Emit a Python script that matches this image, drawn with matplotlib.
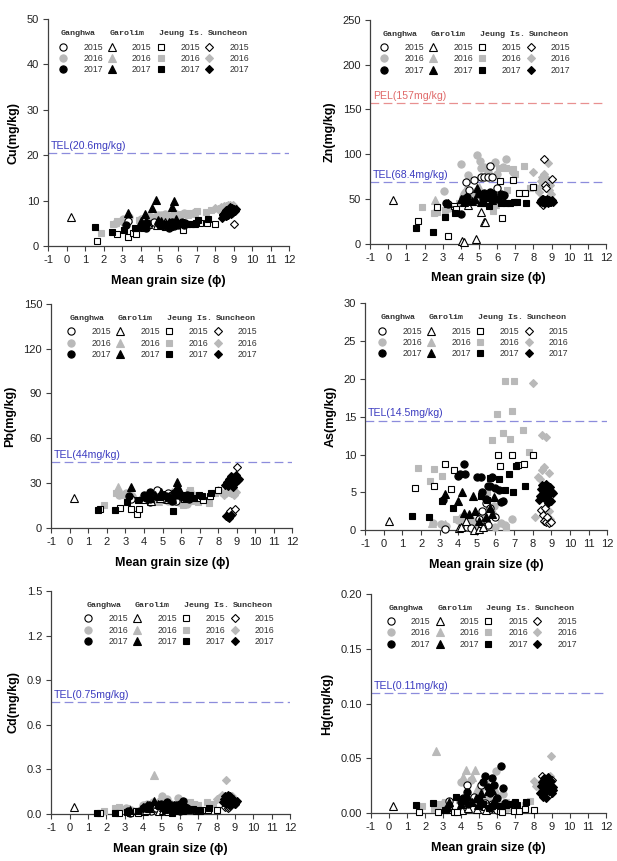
import numpy as np
import matplotlib.pyplot as plt
import matplotlib.transforms as mtransforms
from matplotlib.lines import Line2D

plt.rcParams['font.family'] = ['Liberation Sans', 'DejaVu Sans']
plt.rcParams['axes.unicode_minus'] = False

# ---- data: mean grain size (phi) and metal contents per site / year ----
gh15_phi = [3.3, 4.3, 4.45, 4.7, 5.1, 5.3, 5.5, 5.6, 5.7, 6.0]
gh15_cu = [5.6, 4.6, 5.0, 5.3, 4.8, 5.0, 4.4, 4.9, 5.2, 4.6]
gh15_zn = [44, 69, 60, 71, 74, 75, 75, 87, 75, 62]
gh15_pb = [19, 17, 21, 25, 19, 23, 22, 20, 18, 21]
gh15_as = [0.2, 0.4, 0.4, 0.3, 1.5, 2.6, 3.6, 0.7, 3.0, 1.8]
gh15_cd = [0.01, 0.03, 0.02, 0.04, 0.03, 0.05, 0.02, 0.04, 0.03, 0.02]
gh15_hg = [0.011, 0.026, 0.012, 0.015, 0.026, 0.009, 0.006, 0.004, 0.008, 0.003]

gh16_phi = [2.65, 3.05, 3.35, 4.0, 4.2, 4.4, 4.55, 4.9, 5.05, 5.1, 5.3, 5.5, 5.9, 6.0, 6.3, 6.5, 6.9]
gh16_cu = [5.2, 5.9, 6.4, 6.0, 6.3, 6.6, 6.5, 6.9, 6.2, 6.8, 7.0, 6.6, 7.1, 6.9, 7.3, 7.2, 7.6]
gh16_zn = [35, 59, 40, 89, 55, 77, 57, 99, 92, 84, 86, 80, 91, 78, 86, 94, 80]
gh16_pb = [22, 23, 21, 20, 22, 18, 21, 19, 22, 20, 18, 23, 17, 22, 16, 24, 19]
gh16_as = [1.0, 0.9, 0.6, 1.4, 1.8, 0.8, 1.2, 0.6, 1.0, 0.4, 1.6, 1.2, 3.2, 0.5, 1.0, 0.7, 1.5]
gh16_cd = [0.03, 0.04, 0.03, 0.06, 0.07, 0.05, 0.08, 0.09, 0.12, 0.08, 0.10, 0.07, 0.11, 0.06, 0.08, 0.07, 0.06]
gh16_hg = [0.005, 0.009, 0.006, 0.028, 0.012, 0.008, 0.030, 0.018, 0.022, 0.011, 0.028, 0.015, 0.038, 0.010, 0.017, 0.005, 0.008]

gh17_phi = [3.2, 4.0, 4.1, 4.3, 4.35, 5.0, 5.2, 5.3, 5.5, 5.6, 5.7, 5.8, 6.0, 6.2, 6.3, 6.4]
gh17_cu = [4.6, 4.2, 4.9, 4.1, 5.2, 4.8, 4.4, 5.0, 4.1, 4.7, 5.3, 4.5, 4.9, 5.4, 4.6, 5.1]
gh17_zn = [45, 33, 50, 48, 52, 55, 50, 57, 53, 58, 52, 56, 50, 55, 53, 54]
gh17_pb = [21, 22, 20, 19, 24, 22, 21, 20, 18, 23, 22, 25, 21, 20, 22, 19]
gh17_as = [4.0, 7.2, 7.4, 8.7, 7.4, 7.0, 7.1, 5.1, 4.2, 5.8, 5.9, 7.1, 5.6, 5.3, 3.8, 3.9]
gh17_cd = [0.02, 0.04, 0.05, 0.06, 0.04, 0.07, 0.05, 0.08, 0.06, 0.03, 0.05, 0.06, 0.07, 0.09, 0.05, 0.04]
gh17_hg = [0.004, 0.010, 0.014, 0.019, 0.008, 0.012, 0.028, 0.034, 0.024, 0.018, 0.032, 0.026, 0.014, 0.043, 0.023, 0.009]

gr15_phi = [0.25, 4.05, 4.15, 4.4, 4.85, 5.1, 5.3, 5.35]
gr15_cu = [6.4, 4.5, 4.3, 5.0, 4.6, 4.8, 5.4, 4.5]
gr15_zn = [49, 3, 2, 43, 5, 35, 24, 24]
gr15_pb = [20, 19, 21, 18, 20, 22, 19, 21]
gr15_as = [1.3, 0.3, 0.5, 1.2, 0.1, 0.2, 1.0, 0.5]
gr15_cd = [0.045, 0.02, 0.03, 0.04, 0.02, 0.03, 0.04, 0.02]
gr15_hg = [0.006, 0.003, 0.008, 0.005, 0.004, 0.010, 0.006, 0.003]

gr16_phi = [2.6, 3.3, 4.1, 4.25, 4.6, 4.75, 4.85, 5.0, 5.5, 5.9]
gr16_cu = [5.4, 6.2, 6.0, 6.4, 6.3, 6.7, 6.5, 6.6, 6.2, 7.0]
gr16_zn = [49, 43, 57, 60, 52, 58, 48, 63, 47, 44]
gr16_pb = [27.5, 22, 20, 21, 23, 18, 19, 22, 24, 20]
gr16_as = [1.0, 0.8, 1.5, 1.3, 0.8, 1.6, 1.1, 0.6, 1.7, 2.3]
gr16_cd = [0.04, 0.03, 0.06, 0.05, 0.26, 0.07, 0.06, 0.08, 0.07, 0.05]
gr16_hg = [0.057, 0.006, 0.033, 0.039, 0.033, 0.039, 0.022, 0.016, 0.012, 0.020]

gr17_phi = [3.3, 4.0, 4.2, 4.3, 4.6, 4.8, 4.9, 5.1, 5.5, 5.7, 5.8, 5.9]
gr17_cu = [7.4, 5.5, 7.0, 5.6, 8.5, 10.1, 5.7, 5.5, 5.3, 8.6, 9.9, 6.0]
gr17_zn = [45, 50, 47, 52, 48, 50, 62, 46, 52, 49, 55, 51]
gr17_pb = [27, 21, 23.5, 20, 22, 21, 24, 22, 19, 23, 30.5, 26]
gr17_as = [4.8, 3.9, 5.1, 2.3, 2.2, 4.5, 2.6, 1.2, 1.8, 3.0, 2.2, 4.4]
gr17_cd = [0.03, 0.05, 0.06, 0.04, 0.09, 0.07, 0.06, 0.05, 0.04, 0.06, 0.03, 0.05]
gr17_hg = [0.010, 0.008, 0.012, 0.016, 0.010, 0.014, 0.007, 0.018, 0.020, 0.021, 0.012, 0.008]

jg15_phi = [1.65, 2.7, 3.3, 3.6, 3.75, 6.15, 6.25, 6.9, 7.2, 7.55, 8.0]
jg15_cu = [1.2, 2.8, 2.1, 3.0, 2.6, 4.6, 3.6, 4.9, 5.1, 5.1, 5.0]
jg15_zn = [25, 41, 8.5, 42, 39, 70, 29, 71, 57, 57, 63]
jg15_pb = [12.5, 13.5, 12.5, 9, 12.5, 19, 22, 20, 18.5, 21, 25]
jg15_as = [5.6, 5.8, 8.7, 5.4, 8.0, 10.0, 8.5, 10.0, 8.6, 8.7, 9.9]
jg15_cd = [0.005, 0.01, 0.01, 0.02, 0.01, 0.02, 0.03, 0.02, 0.03, 0.03, 0.025]
jg15_hg = [0.001, 0.001, 0.003, 0.0005, 0.0005, 0.002, 0.001, 0.002, 0.002, 0.004, 0.003]

jg16_phi = [1.85, 2.5, 2.7, 3.1, 3.9, 5.55, 5.8, 6.1, 6.4, 6.5, 6.55, 6.8, 6.9, 7.0, 7.5, 7.8]
jg16_cu = [3.0, 5.0, 5.6, 5.3, 5.8, 6.4, 7.0, 7.2, 7.0, 7.4, 6.8, 7.3, 7.0, 7.8, 7.6, 8.0]
jg16_zn = [41, 34, 35, 38, 45, 74, 36, 85, 55, 84, 60, 82, 83, 78, 87, 62]
jg16_pb = [15.5, 23, 22, 22, 19, 17, 21, 15.5, 24, 25, 18, 22, 17, 20, 16.5, 23]
jg16_as = [8.2, 6.5, 8.1, 7.2, 1.5, 5.1, 11.9, 15.4, 12.8, 19.7, 0.4, 12.0, 15.8, 19.7, 13.2, 10.4]
jg16_cd = [0.02, 0.04, 0.05, 0.04, 0.03, 0.06, 0.05, 0.07, 0.06, 0.05, 0.08, 0.07, 0.05, 0.06, 0.08, 0.07]
jg16_hg = [0.006, 0.004, 0.008, 0.010, 0.012, 0.005, 0.006, 0.008, 0.004, 0.010, 0.007, 0.005, 0.009, 0.006, 0.007, 0.011]

jg17_phi = [1.5, 2.45, 3.1, 3.7, 5.2, 5.55, 5.7, 6.2, 6.5, 6.7, 6.95, 7.1, 7.6]
jg17_cu = [4.3, 3.2, 3.5, 4.1, 4.6, 4.3, 5.0, 5.2, 4.8, 5.0, 5.2, 5.8, 6.1]
jg17_zn = [18, 13, 30, 34, 45, 42, 55, 45, 45, 45, 46, 46, 45]
jg17_pb = [12, 12, 17.5, 18.5, 21, 11.5, 22, 21, 22, 20, 22, 21, 23.5]
jg17_as = [1.9, 1.7, 3.9, 2.9, 4.6, 4.0, 6.9, 6.8, 5.3, 7.5, 5.1, 8.5, 5.9]
jg17_cd = [0.005, 0.01, 0.015, 0.02, 0.03, 0.005, 0.04, 0.03, 0.03, 0.035, 0.03, 0.02, 0.04]
jg17_hg = [0.007, 0.009, 0.003, 0.015, 0.008, 0.005, 0.006, 0.006, 0.007, 0.008, 0.010, 0.007, 0.010]

sc15_phi = [8.45, 8.55, 8.6, 8.65, 8.7, 8.75, 8.9, 9.0]
sc15_cu = [6.8, 7.2, 6.6, 7.5, 7.0, 7.8, 7.4, 4.8]
sc15_zn = [50, 43, 94, 65, 62, 47, 48, 72]
sc15_pb = [8, 7, 10, 11.5, 30, 9, 12.5, 41]
sc15_as = [2.7, 2.0, 1.3, 3.0, 1.1, 1.8, 1.0, 1.1]
sc15_cd = [0.05, 0.06, 0.04, 0.07, 0.05, 0.06, 0.08, 0.07]
sc15_hg = [0.034, 0.026, 0.022, 0.031, 0.020, 0.028, 0.017, 0.030]

sc16_phi = [8.0, 8.15, 8.3, 8.4, 8.5, 8.5, 8.6, 8.7, 8.8, 8.85, 8.9, 8.95]
sc16_cu = [8.5, 8.3, 8.7, 8.2, 8.9, 8.6, 8.8, 9.0, 9.1, 8.7, 8.9, 9.0]
sc16_zn = [80, 62, 58, 70, 75, 66, 78, 73, 90, 60, 65, 55]
sc16_pb = [25, 24, 22, 23, 25, 26, 24, 23, 25, 22, 24, 24]
sc16_as = [19.4, 1.8, 7.0, 6.8, 12.6, 8.0, 8.4, 12.3, 5.0, 7.6, 2.5, 1.5]
sc16_cd = [0.10, 0.11, 0.13, 0.09, 0.23, 0.12, 0.10, 0.11, 0.09, 0.12, 0.10, 0.08]
sc16_hg = [0.029, 0.025, 0.027, 0.022, 0.030, 0.024, 0.028, 0.026, 0.032, 0.031, 0.034, 0.052]

sc17_phi = [8.35, 8.4, 8.45, 8.5, 8.55, 8.6, 8.6, 8.65, 8.7, 8.7, 8.75, 8.8, 8.8, 8.85, 8.9, 8.9, 8.95, 9.0, 9.05, 9.1]
sc17_cu = [6.3, 6.8, 7.2, 7.0, 7.6, 6.6, 8.0, 7.3, 7.8, 6.9, 8.3, 7.5, 8.6, 7.2, 7.9, 8.4, 7.6, 8.1, 7.8, 8.2]
sc17_zn = [47, 49, 46, 48, 50, 45, 47, 49, 46, 48, 50, 47, 45, 49, 48, 46, 47, 49, 48, 47]
sc17_pb = [29, 8, 31, 7, 28, 33, 6.5, 30, 35, 8.5, 29, 32, 27.5, 34, 31, 30, 35.5, 33, 32, 33]
sc17_as = [4.0, 4.6, 5.5, 6.0, 5.2, 4.3, 5.8, 5.0, 6.1, 4.4, 5.6, 3.6, 5.9, 4.8, 5.3, 4.2, 5.7, 3.9, 5.0, 4.9]
sc17_cd = [0.08, 0.10, 0.12, 0.07, 0.11, 0.09, 0.13, 0.08, 0.10, 0.06, 0.12, 0.09, 0.11, 0.07, 0.10, 0.08, 0.09, 0.07, 0.08, 0.09]
sc17_hg = [0.018, 0.025, 0.028, 0.015, 0.030, 0.022, 0.032, 0.019, 0.027, 0.014, 0.031, 0.024, 0.033, 0.020, 0.026, 0.022, 0.029, 0.018, 0.024, 0.021]

sites = ["Ganghwa", "Garolim", "Jeung Is.", "Suncheon"]
years = ["2015", "2016", "2017"]
elements = ["Cu", "Zn", "Pb", "As", "Cd", "Hg"]
ymax = [50, 250, 150, 30, 1.5, 0.2]
ystep = [10, 50, 30, 5, 0.3, 0.05]
tel = [20.6, 68.4, 44, 14.5, 0.75, 0.11]
tel_text = ["TEL(20.6mg/kg)", "TEL(68.4mg/kg)", "TEL(44mg/kg)", "TEL(14.5mg/kg)",
            "TEL(0.75mg/kg)", "TEL(0.11mg/kg)"]
pel = [None, 157, None, None, None, None]
pel_text = [None, "PEL(157mg/kg)", None, None, None, None]

raw = {
    ("Ganghwa", "2015"): (gh15_phi, [gh15_cu, gh15_zn, gh15_pb, gh15_as, gh15_cd, gh15_hg]),
    ("Ganghwa", "2016"): (gh16_phi, [gh16_cu, gh16_zn, gh16_pb, gh16_as, gh16_cd, gh16_hg]),
    ("Ganghwa", "2017"): (gh17_phi, [gh17_cu, gh17_zn, gh17_pb, gh17_as, gh17_cd, gh17_hg]),
    ("Garolim", "2015"): (gr15_phi, [gr15_cu, gr15_zn, gr15_pb, gr15_as, gr15_cd, gr15_hg]),
    ("Garolim", "2016"): (gr16_phi, [gr16_cu, gr16_zn, gr16_pb, gr16_as, gr16_cd, gr16_hg]),
    ("Garolim", "2017"): (gr17_phi, [gr17_cu, gr17_zn, gr17_pb, gr17_as, gr17_cd, gr17_hg]),
    ("Jeung Is.", "2015"): (jg15_phi, [jg15_cu, jg15_zn, jg15_pb, jg15_as, jg15_cd, jg15_hg]),
    ("Jeung Is.", "2016"): (jg16_phi, [jg16_cu, jg16_zn, jg16_pb, jg16_as, jg16_cd, jg16_hg]),
    ("Jeung Is.", "2017"): (jg17_phi, [jg17_cu, jg17_zn, jg17_pb, jg17_as, jg17_cd, jg17_hg]),
    ("Suncheon", "2015"): (sc15_phi, [sc15_cu, sc15_zn, sc15_pb, sc15_as, sc15_cd, sc15_hg]),
    ("Suncheon", "2016"): (sc16_phi, [sc16_cu, sc16_zn, sc16_pb, sc16_as, sc16_cd, sc16_hg]),
    ("Suncheon", "2017"): (sc17_phi, [sc17_cu, sc17_zn, sc17_pb, sc17_as, sc17_cd, sc17_hg]),
}

# ---- styles ----
site_marker = {"Ganghwa": "o", "Garolim": "^", "Jeung Is.": "s", "Suncheon": "D"}
site_msize = {"Ganghwa": 5.2, "Garolim": 5.2, "Jeung Is.": 4.7, "Suncheon": 4.4}
gray = "#b9b9b9"
year_face = {"2015": "white", "2016": gray, "2017": "black"}
year_edge = {"2015": "black", "2016": gray, "2017": "black"}
axcol = "#404040"

boxes = [[0.078, 0.714, 0.391, 0.264], [0.600, 0.717, 0.382, 0.260],
         [0.083, 0.387, 0.391, 0.260], [0.592, 0.384, 0.392, 0.264],
         [0.083, 0.0546, 0.387, 0.259], [0.601, 0.0557, 0.381, 0.254]]
leg_x = [0.033, 0.030, 0.054, 0.041, 0.126, 0.055]
yfmt = ["%d", "%d", "%d", "%d", "%.1f", "%.2f"]

fig = plt.figure(figsize=(6.17, 8.61), dpi=100)
axes = []
for i, el in enumerate(elements):
    ax = fig.add_axes(boxes[i])
    axes.append(ax)
    for yr in ["2016", "2015", "2017"]:
        for s in sites:
            phi, vals = raw[(s, yr)]
            ax.plot(phi, vals[i], linestyle="none", marker=site_marker[s],
                    ms=site_msize[s], mfc=year_face[yr], mec=year_edge[yr],
                    mew=0.8, clip_on=False, zorder=3)

    blend = mtransforms.blended_transform_factory(ax.transAxes, ax.transData)
    ax.axhline(tel[i], color="#8c8cdc", lw=0.9, ls=(0, (7, 3.5)), zorder=1)
    ax.annotate(tel_text[i], xy=(0.012, tel[i]), xycoords=blend, xytext=(0, 1.5),
                textcoords="offset points", va="bottom", ha="left",
                fontsize=7.6, color="#3c3cc0")
    if pel[i] is not None:
        ax.axhline(pel[i], color="#e89090", lw=0.9, ls=(0, (7, 3.5)), zorder=1)
        ax.annotate(pel_text[i], xy=(0.012, pel[i]), xycoords=blend, xytext=(0, 1.5),
                    textcoords="offset points", va="bottom", ha="left",
                    fontsize=7.6, color="#e06a6a")

    ax.set_xlim(-1, 12)
    ax.set_ylim(0, ymax[i])
    ax.set_xticks(range(-1, 13))
    yt = np.arange(0, ymax[i] + ystep[i] / 2, ystep[i])
    ax.set_yticks(yt)
    ax.set_yticklabels([yfmt[i] % v for v in yt])
    for sp in ["top", "right"]:
        ax.spines[sp].set_visible(False)
    for sp in ["left", "bottom"]:
        ax.spines[sp].set_color(axcol)
        ax.spines[sp].set_linewidth(0.9)
    ax.tick_params(direction="out", length=3.5, width=0.8, color=axcol,
                   labelsize=8, labelcolor="#222222", pad=3)
    ax.set_xlabel("Mean grain size (ϕ)", fontsize=9, fontweight="bold", labelpad=7)
    ax.set_ylabel(el + "(mg/kg)", fontsize=9, fontweight="bold", labelpad=5)

    # legend: 4 columns (sites) x 3 rows (years)
    handles, labels = [], []
    for s in sites:
        for yr in years:
            handles.append(Line2D([], [], linestyle="none", marker=site_marker[s],
                                  ms=site_msize[s], mfc=year_face[yr],
                                  mec=year_edge[yr], mew=0.8))
            labels.append(yr)
    leg = ax.legend(handles, labels, ncol=4, loc="upper left",
                    bbox_to_anchor=(leg_x[i], 0.895), frameon=False, fontsize=6.3,
                    handlelength=1.6, handletextpad=1.5, columnspacing=0.22,
                    labelspacing=0.25, borderpad=0, borderaxespad=0, numpoints=1)
    for t in leg.get_texts():
        t.set_color("#333333")

fig.canvas.draw()
renderer = fig.canvas.get_renderer()
for ax in axes:
    leg = ax.get_legend()
    hs = leg.legend_handles
    inv = ax.transAxes.inverted()
    for k, s in enumerate(sites):
        bb = hs[k * 3].get_window_extent(renderer)
        cx = (bb.x0 + bb.x1) / 2 - 2
        xa, _ = inv.transform((cx, 0))
        ax.text(xa, 0.935, s, transform=ax.transAxes, ha="left", va="center",
                fontsize=6, fontweight="bold", family="Liberation Mono",
                color="#333333")

fig.savefig("out.png", dpi=100)
